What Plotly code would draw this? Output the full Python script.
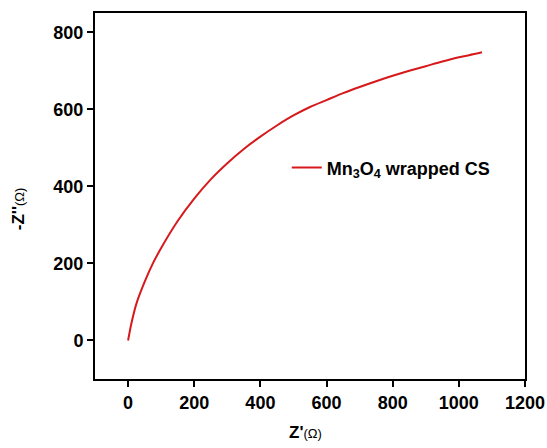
import plotly.graph_objects as go

z_real = [0, 10, 25, 50, 75, 100, 150, 200, 250, 300, 350, 400, 450, 500, 550,
          600, 650, 700, 750, 800, 850, 900, 950, 1000, 1050, 1070]
z_imag = [0, 44, 95, 152, 200, 240, 310, 368, 418, 460, 497, 529, 558, 584, 606,
          624, 642, 658, 673, 687, 700, 712, 724, 735, 744, 748]
series_name = "<b>Mn<sub>3</sub>O<sub>4</sub> wrapped CS</b>"
x_ticks = [0, 200, 400, 600, 800, 1000, 1200]
y_ticks = [0, 200, 400, 600, 800]

fig = go.Figure()
fig.add_trace(go.Scatter(x=z_real, y=z_imag, mode="lines", name=series_name,
                         line=dict(color="#d7191c", width=2, shape="spline", smoothing=0.8)))

font = "Liberation Sans, Arial, sans-serif"
axis_common = dict(showgrid=False, zeroline=False, automargin=False,
                   showline=True, linecolor="black", linewidth=2, mirror=True,
                   ticks="outside", ticklen=6, tickwidth=2, tickcolor="black",
                   tickfont=dict(size=18))
fig.update_layout(
    width=547, height=448,
    margin=dict(l=95, r=22, t=13, b=69),
    paper_bgcolor="white", plot_bgcolor="white",
    font=dict(family=font, color="black"),
    showlegend=True,
    legend=dict(x=0.446, y=0.577, xanchor="left", yanchor="middle",
                bgcolor="rgba(0,0,0,0)", font=dict(size=18, family=font),
                itemwidth=30),
    xaxis=dict(range=[-100, 1200], tickvals=x_ticks,
               ticktext=[f"<b>{v}</b>" for v in x_ticks], **axis_common),
    yaxis=dict(range=[-100, 850], tickvals=y_ticks,
               ticktext=[f"<b>{v}</b>" for v in y_ticks], **axis_common),
    annotations=[
        dict(text="<b>Z'</b><span style='font-size:13px'>(Ω)</span>",
             xref="paper", yref="paper", x=0.49, y=-0.1475,
             xanchor="center", yanchor="middle", showarrow=False,
             font=dict(size=17)),
        dict(text="<b>-Z''</b><span style='font-size:13px'>(Ω)</span>",
             xref="paper", yref="paper", x=-0.179, y=0.464, textangle=-90,
             xanchor="center", yanchor="middle", showarrow=False,
             font=dict(size=17)),
    ],
)

fig.write_html("out.html", config={"displayModeBar": False},
               post_script="document.body.style.margin='0';document.body.style.padding='0';")
